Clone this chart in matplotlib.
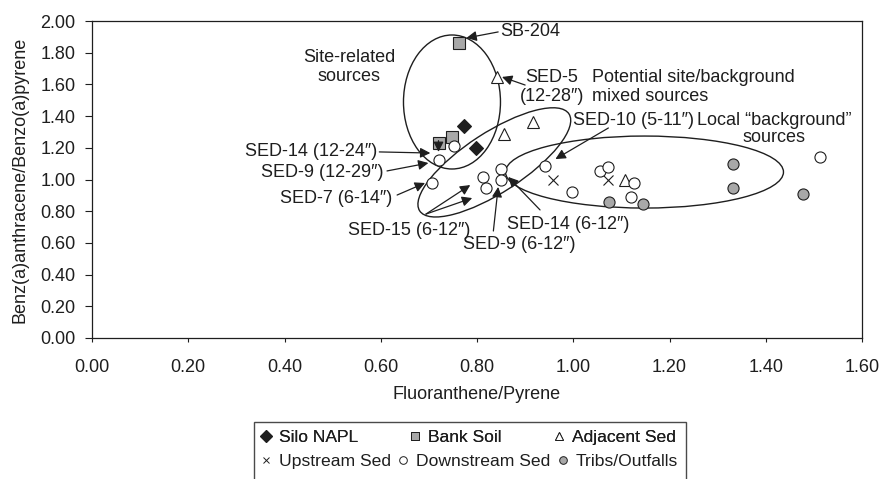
import matplotlib
matplotlib.use("Agg")
import matplotlib.pyplot as plt
from matplotlib.patches import Ellipse, Rectangle
from matplotlib.lines import Line2D
from matplotlib.transforms import ScaledTranslation

plt.rcParams['font.family'] = ['Liberation Sans', 'DejaVu Sans']
plt.rcParams['font.size'] = 13

# ratios per sample group
silo_x = [0.772, 0.798]
silo_y = [1.34, 1.20]
bank_x = [0.763, 0.722, 0.748]
bank_y = [1.86, 1.23, 1.27]
adj_x = [0.841, 0.917, 0.857, 1.107]
adj_y = [1.645, 1.365, 1.285, 1.00]
up_x = [0.958, 1.072]
up_y = [1.00, 1.00]
down_x = [0.753, 0.720, 0.706, 0.942, 1.055, 1.072, 1.127, 0.812, 0.818,
          0.850, 0.850, 0.998, 1.121, 1.513]
down_y = [1.21, 1.12, 0.975, 1.085, 1.055, 1.08, 0.98, 1.015, 0.945,
          1.065, 0.995, 0.92, 0.89, 1.145]
trib_x = [1.075, 1.145, 1.331, 1.331, 1.477]
trib_y = [0.86, 0.845, 1.10, 0.945, 0.91]

xticks = [0.0, 0.2, 0.4, 0.6, 0.8, 1.0, 1.2, 1.4, 1.6]
yticks = [0.0, 0.2, 0.4, 0.6, 0.8, 1.0, 1.2, 1.4, 1.6, 1.8, 2.0]

ink = '#1e1e1e'
gray = '#a8a8a8'

fig = plt.figure(figsize=(8.83, 4.79), dpi=100)
ax = fig.add_axes([92 / 883, 1 - 338 / 479, 770 / 883, 317 / 479])

mk = dict(linestyle='none', markeredgecolor=ink, markeredgewidth=0.8, zorder=5)
ax.plot(silo_x, silo_y, marker='D', ms=7.5, color=ink, **mk)
ax.plot(bank_x, bank_y, marker='s', ms=8, markerfacecolor=gray, **mk)
ax.plot(adj_x, adj_y, marker='^', ms=8.5, markerfacecolor='white', **mk)
ax.plot(up_x, up_y, marker='x', ms=6.5, **mk)
ax.plot(down_x, down_y, marker='o', ms=8, markerfacecolor='white', **mk)
ax.plot(trib_x, trib_y, marker='o', ms=8, markerfacecolor=gray, **mk)

ax.set_xlim(0, 1.6)
ax.set_ylim(0, 2.0)
ax.set_xticks(xticks)
ax.set_yticks(yticks)
ax.set_xticklabels([f'{v:.2f}' for v in xticks])
ax.set_yticklabels([f'{v:.2f}' for v in yticks])
ax.tick_params(axis='x', direction='out', length=3, width=0.8, pad=12, colors=ink)
ax.tick_params(axis='y', direction='out', length=5, width=0.8, pad=7, colors=ink)
for s in ax.spines.values():
    s.set_linewidth(0.9)
    s.set_color(ink)

ax.set_xlabel('Fluoranthene/Pyrene', color=ink)
ax.xaxis.set_label_coords(0.5, -0.151)
ax.set_ylabel('Benz(a)anthracene/Benzo(a)pyrene', color=ink, labelpad=8)


# ellipses sized in inches around a data-space centre
def ring(cx, cy, w, h, ang):
    tr = fig.dpi_scale_trans + ScaledTranslation(cx, cy, ax.transData)
    ax.add_patch(Ellipse((0, 0), w, h, angle=ang, transform=tr,
                         fill=False, edgecolor=ink, lw=1.0, zorder=3))


ring(0.748, 1.489, 0.97, 1.34, 0)
ring(0.836, 1.108, 1.78, 0.60, 33)
ring(1.148, 1.047, 2.78, 0.72, 0)

arw = dict(arrowstyle='-|>', mutation_scale=15, lw=0.9, color=ink,
           shrinkA=0, shrinkB=0)


def arrow(tail, tip):
    ax.annotate('', xy=tip, xytext=tail, arrowprops=arw, zorder=6)


arrow((0.844, 1.931), (0.778, 1.893))
arrow((0.900, 1.596), (0.852, 1.647))
arrow((1.073, 1.325), (0.963, 1.129))
arrow((0.597, 1.174), (0.703, 1.167))
arrow((0.720, 1.245), (0.720, 1.174))
arrow((0.613, 1.054), (0.699, 1.104))
arrow((0.634, 0.902), (0.692, 0.978))
arrow((0.694, 0.782), (0.786, 0.965))
arrow((0.694, 0.782), (0.790, 0.883))
arrow((0.834, 0.675), (0.844, 0.953))
arrow((0.931, 0.808), (0.865, 1.016))

ax.text(0.848, 1.931, 'SB-204', ha='left', va='center', color=ink)
ax.text(0.956, 1.584, 'SED-5\n(12-28″)', ha='center', va='center',
        multialignment='center', color=ink, linespacing=1.1)
ax.text(1.040, 1.584, 'Potential site/background\nmixed sources',
        ha='left', va='center', color=ink, linespacing=1.1)
ax.text(1.000, 1.375, 'SED-10 (5-11″)', ha='left', va='center', color=ink)
ax.text(1.418, 1.319, 'Local “background”\nsources', ha='center', va='center',
        multialignment='center', color=ink, linespacing=1.0)
ax.text(0.534, 1.710, 'Site-related\nsources', ha='center', va='center',
        multialignment='center', color=ink, linespacing=1.1)
ax.text(0.593, 1.174, 'SED-14 (12-24″)', ha='right', va='center', color=ink)
ax.text(0.605, 1.047, 'SED-9 (12-29″)', ha='right', va='center', color=ink)
ax.text(0.624, 0.883, 'SED-7 (6-14″)', ha='right', va='center', color=ink)
ax.text(0.786, 0.681, 'SED-15 (6-12″)', ha='right', va='center', color=ink)
ax.text(0.771, 0.587, 'SED-9 (6-12″)', ha='left', va='center', color=ink)
ax.text(0.863, 0.713, 'SED-14 (6-12″)', ha='left', va='center', color=ink)

# legend: two rows, boxed, bottom edge runs off the figure
lk = dict(linestyle='none', markeredgecolor=ink, markeredgewidth=0.7)
row1 = [Line2D([], [], marker='D', ms=6, color=ink, **lk),
        Line2D([], [], marker='s', ms=5.5, markerfacecolor=gray, **lk),
        Line2D([], [], marker='^', ms=6, markerfacecolor='white', **lk)]
row2 = [Line2D([], [], marker='x', ms=5, **lk),
        Line2D([], [], marker='o', ms=5.5, markerfacecolor='white', **lk),
        Line2D([], [], marker='o', ms=5.5, markerfacecolor=gray, **lk)]
names1 = ['Silo NAPL', 'Bank Soil', 'Adjacent Sed']
names2 = ['Upstream Sed', 'Downstream Sed', 'Tribs/Outfalls']

lg1 = fig.legend(row1, names1, ncol=3, loc='center left', fontsize=12.6,
                 bbox_to_anchor=(259 / 883, 1 - 437 / 479), frameon=False,
                 borderpad=0, borderaxespad=0, handlelength=0.8,
                 handletextpad=0.35, columnspacing=2.85, labelcolor=ink)
lg2 = fig.legend(row2, names2, ncol=3, loc='center left', fontsize=12.6,
                 bbox_to_anchor=(259 / 883, 1 - 461 / 479), frameon=False,
                 borderpad=0, borderaxespad=0, handlelength=0.8,
                 handletextpad=0.35, columnspacing=0.3, labelcolor=ink)
fig.add_artist(lg1)
fig.patches.append(Rectangle((254 / 883, -0.05), 432 / 883, 0.05 + 57 / 479,
                             transform=fig.transFigure, fill=False,
                             edgecolor='#4a4a4a', lw=1.0))

fig.savefig('out.png', dpi=100)
